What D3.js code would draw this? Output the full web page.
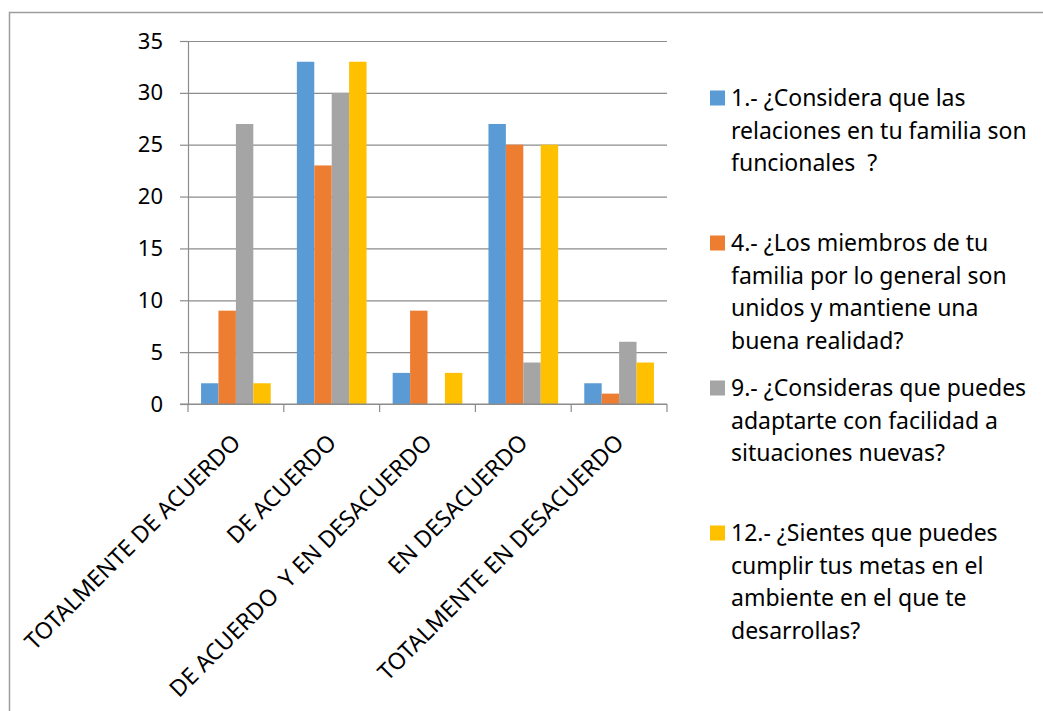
<!DOCTYPE html>
<html>
<head>
<meta charset="utf-8">
<script src="https://cdn.jsdelivr.net/npm/d3@7"></script>
<style>
  body { margin: 0; background: #fff; }
  text { font-family: "Noto Sans", sans-serif; fill: #000; }
</style>
</head>
<body>
<div id="chart"></div>
<script>
const categories = [
  'TOTALMENTE DE ACUERDO',
  'DE ACUERDO',
  'DE ACUERDO  Y EN DESACUERDO',
  'EN DESACUERDO',
  'TOTALMENTE EN DESACUERDO'
];
const seriesIds = ['q1', 'q4', 'q9', 'q12'];
const q1 = [2, 33, 3, 27, 2];
const q4 = [9, 23, 9, 25, 1];
const q9 = [27, 30, 0, 4, 6];
const q12 = [2, 33, 3, 25, 4];
const yTicks = [0, 5, 10, 15, 20, 25, 30, 35];
const legendLines = [
  ['1.- ¿Considera que las', 'relaciones en tu familia son', 'funcionales  ?'],
  ['4.- ¿Los miembros de tu', 'familia por lo general son', 'unidos y mantiene una', 'buena realidad?'],
  ['9.- ¿Consideras que puedes', 'adaptarte con facilidad a', 'situaciones nuevas?'],
  ['12.- ¿Sientes que puedes', 'cumplir tus metas en el', 'ambiente en el que te', 'desarrollas?']
];
const colors = ['#5b9bd5', '#ed7d31', '#a5a5a5', '#ffc000'];

const width = 1043;
const height = 711;
const plot = { left: 188, right: 667, top: 41, bottom: 404 };

const values = [q1, q4, q9, q12];
const rows = categories.map((c, i) => ({
  cat: c,
  vals: seriesIds.map((s, j) => ({ key: s, idx: j, value: values[j][i] }))
}));

const svg = d3.select('#chart').append('svg')
  .attr('width', width)
  .attr('height', height);

// outer chart border (cut off at right/bottom like the source)
svg.append('rect')
  .attr('x', 9.5).attr('y', 12.5)
  .attr('width', 1200).attr('height', 900)
  .attr('fill', 'none')
  .attr('stroke', '#9d9d9d')
  .attr('stroke-width', 1.5);

const x = d3.scaleBand()
  .domain(categories)
  .range([plot.left, plot.right])
  .padding(0);

const xInner = d3.scaleBand()
  .domain(seriesIds)
  .range([0, x.bandwidth()])
  .paddingInner(0)
  .paddingOuter(0.75);

const y = d3.scaleLinear()
  .domain([0, 35])
  .range([plot.bottom, plot.top]);

// gridlines
svg.append('g')
  .attr('transform', `translate(${plot.left},0)`)
  .call(d3.axisLeft(y).tickValues(yTicks).tickFormat('').tickSize(-(plot.right - plot.left)).tickSizeOuter(0))
  .call(g => g.select('.domain').remove())
  .call(g => g.selectAll('line').attr('stroke', '#8c8c8c').attr('stroke-width', 1.2));

// y tick stubs + labels
svg.append('g')
  .attr('transform', `translate(${plot.left},0)`)
  .call(d3.axisLeft(y).tickValues(yTicks).tickSize(8).tickPadding(17).tickSizeOuter(0))
  .call(g => g.select('.domain').attr('stroke', '#8c8c8c').attr('stroke-width', 1.2))
  .call(g => g.selectAll('line').attr('stroke', '#8c8c8c').attr('stroke-width', 1.2))
  .call(g => g.selectAll('text').attr('font-size', 22).attr('font-family', '"Noto Sans", sans-serif').attr('fill', '#000'));

// bars
const groups = svg.append('g').selectAll('g')
  .data(rows)
  .join('g')
  .attr('transform', d => `translate(${x(d.cat)},0)`);

groups.selectAll('rect')
  .data(d => d.vals)
  .join('rect')
  .attr('x', d => xInner(d.key))
  .attr('width', xInner.bandwidth())
  .attr('y', d => y(d.value))
  .attr('height', d => y(0) - y(d.value))
  .attr('fill', d => colors[d.idx]);

// x axis line and boundary ticks
const xAxis = svg.append('g');
xAxis.append('line')
  .attr('x1', plot.left - 8).attr('x2', plot.right)
  .attr('y1', y(0)).attr('y2', y(0))
  .attr('stroke', '#8c8c8c').attr('stroke-width', 1.2);
xAxis.selectAll('.tk')
  .data(categories.map(c => x(c)).concat([x.range()[1]]))
  .join('line')
  .attr('class', 'tk')
  .attr('x1', d => d).attr('x2', d => d)
  .attr('y1', y(0)).attr('y2', y(0) + 8)
  .attr('stroke', '#8c8c8c').attr('stroke-width', 1.2);

// rotated category labels
svg.append('g').selectAll('text')
  .data(categories)
  .join('text')
  .attr('transform', d => `translate(${x(d) + x.bandwidth() / 2 + 6},${444}) rotate(-45)`)
  .attr('text-anchor', 'end')
  .attr('font-size', 23)
  .style('white-space', 'pre')
  .text(d => d);

// legend
const legendTop = [98, 243, 388, 533];
const lineGap = 32.5;
const legend = svg.append('g');
legendLines.forEach((lines, i) => {
  legend.append('rect')
    .attr('x', 710).attr('y', legendTop[i] - 7.5)
    .attr('width', 15).attr('height', 15)
    .attr('fill', colors[i]);
  const t = legend.append('text')
    .attr('font-size', 23)
    .style('white-space', 'pre');
  lines.forEach((ln, k) => {
    t.append('tspan')
      .attr('x', 731)
      .attr('y', legendTop[i] + k * lineGap)
      .attr('dy', '0.36em')
      .text(ln);
  });
});
</script>
</body>
</html>
